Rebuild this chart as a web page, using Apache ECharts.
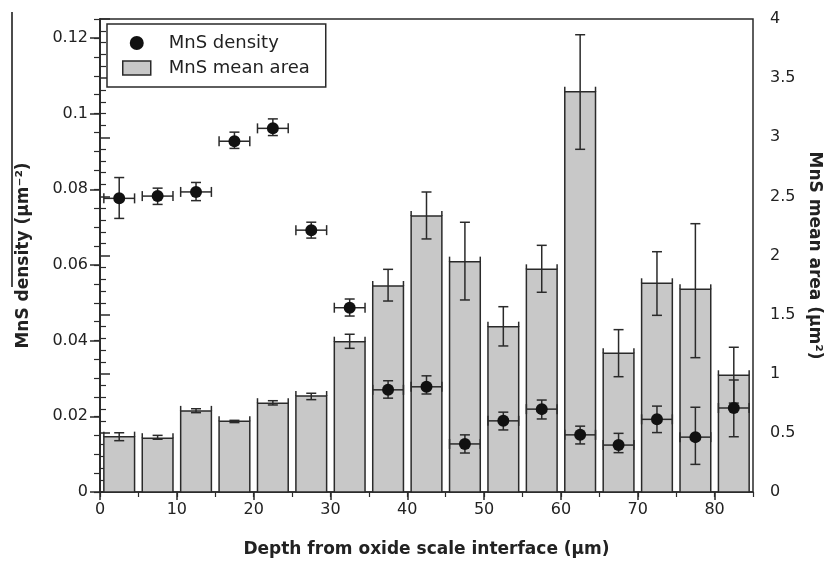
<!DOCTYPE html>
<html><head><meta charset="utf-8">
<script src="https://cdn.jsdelivr.net/npm/echarts@6/dist/echarts.min.js"></script>
<style>html,body{margin:0;padding:0;background:#fff}#c{width:832px;height:563px}</style>
</head><body><div id="c"></div><script>
// ---- data ----
const depthCenters = [2.5, 7.5, 12.5, 17.5, 22.5, 27.5, 32.5, 37.5, 42.5, 47.5, 52.5, 57.5, 62.5, 67.5, 72.5, 77.5, 82.5];
const binHalfWidth = 2;
const meanArea     = [0.468, 0.455, 0.686, 0.599, 0.751, 0.812, 1.271, 1.742, 2.334, 1.948, 1.398, 1.883, 3.385, 1.173, 1.765, 1.714, 0.987];
const meanAreaLow  = [0.434, 0.446, 0.671, 0.587, 0.736, 0.781, 1.215, 1.615, 2.140, 1.624, 1.235, 1.689, 2.898, 0.975, 1.494, 1.136, 0.752];
const meanAreaHigh = [0.501, 0.479, 0.704, 0.606, 0.772, 0.835, 1.334, 1.883, 2.537, 2.281, 1.567, 2.086, 3.867, 1.373, 2.032, 2.269, 1.224];
const density      = [0.0776, 0.0782, 0.0793, 0.0927, 0.0961, 0.0692, 0.0487, 0.0270, 0.0278, 0.0127, 0.0188, 0.0219, 0.0151, 0.0124, 0.0192, 0.0145, 0.0222];
const densityLow   = [0.0723, 0.0760, 0.0770, 0.0908, 0.0942, 0.0671, 0.0465, 0.0248, 0.0259, 0.0103, 0.0164, 0.0193, 0.0127, 0.0104, 0.0157, 0.0073, 0.0146];
const densityHigh  = [0.0831, 0.0803, 0.0818, 0.0951, 0.0986, 0.0713, 0.0510, 0.0294, 0.0307, 0.0151, 0.0211, 0.0243, 0.0174, 0.0155, 0.0227, 0.0224, 0.0296];
const xTicks = [0, 10, 20, 30, 40, 50, 60, 70, 80];
const leftTicks = [0, 0.02, 0.04, 0.06, 0.08, 0.1, 0.12];
const rightTicks = [0, 0.5, 1, 1.5, 2, 2.5, 3, 3.5, 4];

// ---- drawing ----
const FONT = 'DejaVu Sans';
const INK = '#2a2a2a';
const BAR_FILL = '#c8c8c8';
const chart = echarts.init(document.getElementById('c'), null, {renderer: 'canvas'});

const barData = depthCenters.map((x, i) => [x, meanArea[i], meanAreaLow[i], meanAreaHigh[i], binHalfWidth]);
const densData = depthCenters.map((x, i) => [x, density[i], densityLow[i], densityHigh[i], binHalfWidth]);

const ls = {stroke: INK, lineWidth: 1.5, fill: null};
function seg(x1, y1, x2, y2) { return {type: 'line', shape: {x1, y1, x2, y2}, style: ls}; }

function barItem(params, api) {
  const x = api.value(0), v = api.value(1), lo = api.value(2), hi = api.value(3), hw = api.value(4);
  const p0 = api.coord([x - hw, 0]);
  const p1 = api.coord([x + hw, v]);
  const c = api.coord([x, v]);
  const pLo = api.coord([x, lo]);
  const pHi = api.coord([x, hi]);
  return {type: 'group', children: [
    {type: 'rect', shape: {x: p0[0], y: p1[1], width: p1[0] - p0[0], height: p0[1] - p1[1]},
     style: {fill: BAR_FILL, stroke: INK, lineWidth: 1.5}},
    seg(p0[0], p1[1] - 5, p0[0], p1[1]),
    seg(p1[0], p1[1] - 5, p1[0], p1[1]),
    seg(c[0], pHi[1], c[0], pLo[1]),
    seg(c[0] - 5, pHi[1], c[0] + 5, pHi[1]),
    seg(c[0] - 5, pLo[1], c[0] + 5, pLo[1])
  ]};
}

function pointItem(params, api) {
  const x = api.value(0), v = api.value(1), lo = api.value(2), hi = api.value(3), hw = api.value(4);
  const c = api.coord([x, v]);
  const pLo = api.coord([x, lo]);
  const pHi = api.coord([x, hi]);
  const pL = api.coord([x - hw, v]);
  const pR = api.coord([x + hw, v]);
  return {type: 'group', children: [
    seg(c[0], pHi[1], c[0], pLo[1]),
    seg(c[0] - 5, pHi[1], c[0] + 5, pHi[1]),
    seg(c[0] - 5, pLo[1], c[0] + 5, pLo[1]),
    seg(pL[0], c[1], pR[0], c[1]),
    seg(pL[0], c[1] - 5, pL[0], c[1] + 5),
    seg(pR[0], c[1] - 5, pR[0], c[1] + 5),
    {type: 'circle', shape: {cx: c[0], cy: c[1], r: 6}, style: {fill: '#111', stroke: null}}
  ]};
}

const axisLine = {show: true, lineStyle: {color: INK, width: 1.5}};
const labelStyle = {fontFamily: FONT, fontSize: 16, color: '#222'};
const titleStyle = {fontFamily: FONT, fontSize: 17, fontWeight: 'bold', color: '#222'};
const fmt = v => String(+(+v).toFixed(4));

const option = {
  animation: false,
  backgroundColor: '#fff',
  grid: {left: 100, right: 79, top: 19, bottom: 71, show: true, borderColor: INK, borderWidth: 1.5, backgroundColor: 'transparent', containLabel: false},
  legend: {
    left: 107, top: 24, orient: 'vertical',
    padding: [10, 16, 10, 15], itemGap: 7, itemWidth: 28, itemHeight: 14,
    borderColor: INK, borderWidth: 1.5, borderRadius: 0, backgroundColor: '#fff',
    textStyle: {fontFamily: FONT, fontSize: 18, color: '#222', padding: [0, 0, 0, 13]},
    data: [
      {name: 'MnS density', icon: 'circle', itemStyle: {color: '#111', borderWidth: 0}},
      {name: 'MnS mean area', icon: 'rect', itemStyle: {color: BAR_FILL, borderColor: INK, borderWidth: 1.5}}
    ]
  },
  xAxis: [
    {type: 'value', position: 'bottom', min: xTicks[0], max: 85, interval: xTicks[1] - xTicks[0],
     axisLine: axisLine, axisTick: {show: true, inside: false, length: 8, lineStyle: {color: INK, width: 1.5}},
     axisLabel: Object.assign({margin: 10, showMaxLabel: false, formatter: fmt}, labelStyle),
     splitLine: {show: false},
     name: 'Depth from oxide scale interface (μm)', nameLocation: 'middle', nameGap: 49, nameTextStyle: titleStyle},
    {type: 'value', position: 'bottom', min: xTicks[0], max: 85, interval: (xTicks[1] - xTicks[0]) / 2,
     axisLine: {show: false}, axisTick: {show: true, inside: false, length: 5, lineStyle: {color: INK, width: 1.2}},
     axisLabel: {show: false}, splitLine: {show: false}}
  ],
  yAxis: [
    {type: 'value', position: 'left', min: leftTicks[0], max: 0.125, interval: leftTicks[1] - leftTicks[0],
     axisLine: axisLine, axisTick: {show: true, inside: false, length: 10, lineStyle: {color: INK, width: 1.5}},
     axisLabel: Object.assign({margin: 12, showMaxLabel: false, formatter: fmt}, labelStyle),
     splitLine: {show: false},
     name: 'MnS density (μm⁻²)', nameLocation: 'middle', nameRotate: 90, nameGap: 68, nameTextStyle: titleStyle},
    {type: 'value', position: 'right', min: rightTicks[0], max: rightTicks[rightTicks.length - 1], interval: rightTicks[1] - rightTicks[0],
     axisLine: axisLine, axisTick: {show: true, inside: false, length: 10, lineStyle: {color: INK, width: 1.5}},
     minorTick: {show: true, splitNumber: 5, length: 6, lineStyle: {color: INK, width: 1.2}},
     axisLabel: Object.assign({margin: 17, formatter: fmt}, labelStyle),
     splitLine: {show: false},
     name: 'MnS mean area (μm²)', nameLocation: 'middle', nameRotate: -90, nameGap: 52, nameTextStyle: titleStyle},
    {type: 'value', position: 'left', min: leftTicks[0], max: 0.125, interval: (leftTicks[1] - leftTicks[0]) / 4,
     axisLine: {show: false}, axisTick: {show: true, inside: false, length: 6, lineStyle: {color: INK, width: 1.2}},
     axisLabel: {show: false}, splitLine: {show: false}}
  ],
  graphic: [
    {type: 'line', shape: {x1: 12, y1: 12, x2: 12, y2: 287}, style: {stroke: '#111', lineWidth: 1.5}}
  ],
  series: [
    {name: 'MnS mean area', type: 'custom', xAxisIndex: 0, yAxisIndex: 1, renderItem: barItem,
     itemStyle: {color: BAR_FILL, borderColor: INK, borderWidth: 1.5},
     encode: {x: 0, y: [1, 2, 3]}, data: barData, z: 2},
    {name: 'MnS density', type: 'custom', xAxisIndex: 0, yAxisIndex: 0, renderItem: pointItem,
     itemStyle: {color: '#111'},
     encode: {x: 0, y: [1, 2, 3]}, data: densData, z: 3}
  ]
};
chart.setOption(option);
</script></body></html>
